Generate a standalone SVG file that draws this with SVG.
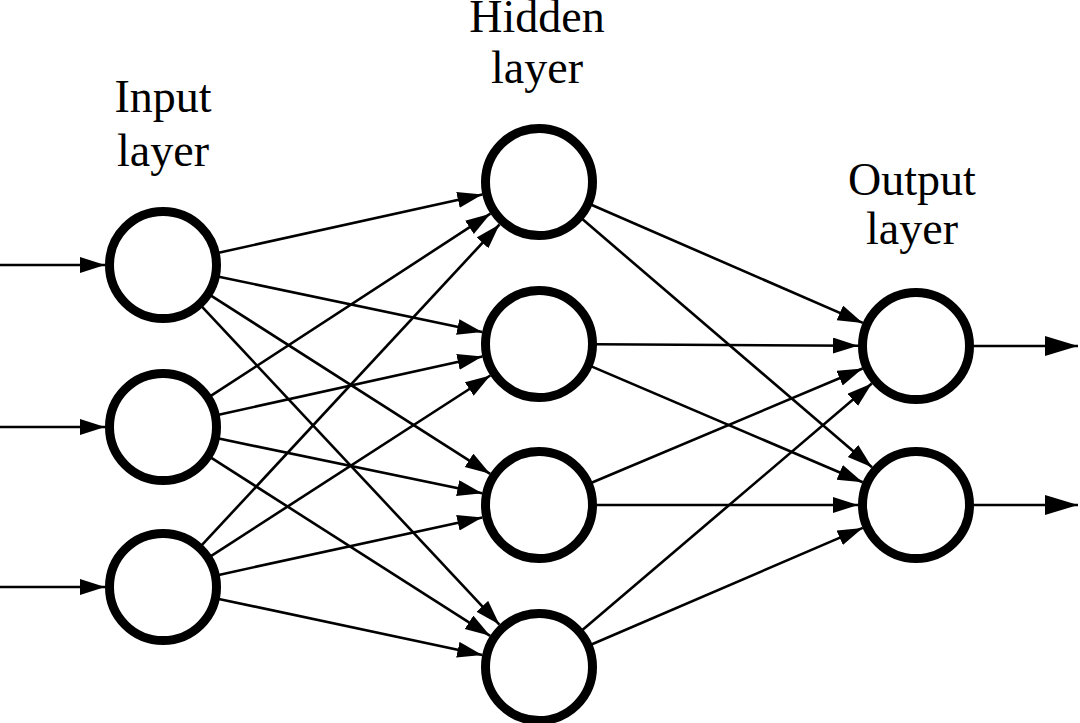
<svg xmlns="http://www.w3.org/2000/svg" width="1080" height="723" viewBox="0 0 1080 723">
<defs>
<marker id="ah" markerUnits="userSpaceOnUse" markerWidth="28" markerHeight="18" refX="25" refY="8" orient="auto">
<path d="M0,0 L25,8 L0,16 z" fill="#000"/>
</marker>
<marker id="ahBig" markerUnits="userSpaceOnUse" markerWidth="36" markerHeight="22" refX="33" refY="10" orient="auto">
<path d="M0,0 L33,10 L0,20 z" fill="#000"/>
</marker>
<style>
.node{fill:#fff;stroke:#000;stroke-width:9}
.edge{stroke:#000;stroke-width:2.6;fill:none;marker-end:url(#ah)}
.out{stroke:#000;stroke-width:2.6;fill:none;marker-end:url(#ahBig)}
.lbl{font-family:"Liberation Serif","Times New Roman",serif;font-size:46px;fill:#000;text-anchor:middle}
</style>
</defs>
<rect width="1080" height="723" fill="#fff"/>
<g id="labels">
<text class="lbl" x="163" y="112">Input</text>
<text class="lbl" x="163" y="166">layer</text>
<text class="lbl" x="537" y="32">Hidden</text>
<text class="lbl" x="537" y="83">layer</text>
<text class="lbl" x="912" y="195">Output</text>
<text class="lbl" x="912" y="244">layer</text>
</g>
<g id="connectors">
<line class="edge" x1="0" y1="265" x2="105" y2="265"/>
<line class="edge" x1="0" y1="427" x2="105" y2="427"/>
<line class="edge" x1="0" y1="587" x2="105" y2="587"/>
<line class="edge" x1="218.7" y1="252.7" x2="482.4" y2="194.5"/>
<line class="edge" x1="218.8" y1="276.7" x2="482.2" y2="332.1"/>
<line class="edge" x1="211.0" y1="295.7" x2="490.1" y2="473.8"/>
<line class="edge" x1="201.9" y1="306.6" x2="499.4" y2="624.6"/>
<line class="edge" x1="210.8" y1="395.9" x2="490.4" y2="213.7"/>
<line class="edge" x1="218.7" y1="414.7" x2="482.4" y2="356.5"/>
<line class="edge" x1="218.8" y1="438.6" x2="482.2" y2="493.2"/>
<line class="edge" x1="211.0" y1="457.7" x2="490.1" y2="635.8"/>
<line class="edge" x1="201.8" y1="545.2" x2="499.5" y2="224.5"/>
<line class="edge" x1="210.9" y1="556.1" x2="490.3" y2="375.5"/>
<line class="edge" x1="218.7" y1="574.9" x2="482.3" y2="517.4"/>
<line class="edge" x1="218.8" y1="598.9" x2="482.3" y2="654.9"/>
<line class="edge" x1="591.3" y1="204.7" x2="862.8" y2="322.9"/>
<line class="edge" x1="582.3" y1="219.1" x2="872.0" y2="467.3"/>
<line class="edge" x1="596" y1="344.3" x2="858" y2="345.7"/>
<line class="edge" x1="591.4" y1="366.4" x2="862.7" y2="482.2"/>
<line class="edge" x1="591.5" y1="482.8" x2="862.6" y2="368.5"/>
<line class="edge" x1="596" y1="505" x2="858" y2="505"/>
<line class="edge" x1="582.4" y1="630.0" x2="871.8" y2="383.6"/>
<line class="edge" x1="591.4" y1="644.5" x2="862.7" y2="527.9"/>
<line class="out" x1="974" y1="346" x2="1078" y2="346"/>
<line class="out" x1="974" y1="505" x2="1078" y2="505"/>
</g>
<g id="input1"><circle class="node" cx="163" cy="265" r="53.5"/></g>
<g id="input2"><circle class="node" cx="163" cy="427" r="53.5"/></g>
<g id="input3"><circle class="node" cx="163" cy="587" r="53.5"/></g>
<g id="hidden1"><circle class="node" cx="539" cy="182" r="53.5"/></g>
<g id="hidden2"><circle class="node" cx="539" cy="344" r="53.5"/></g>
<g id="hidden3"><circle class="node" cx="539" cy="505" r="53.5"/></g>
<g id="hidden4"><circle class="node" cx="539" cy="667" r="53.5"/></g>
<g id="output1"><circle class="node" cx="916" cy="346" r="53.5"/></g>
<g id="output2"><circle class="node" cx="916" cy="505" r="53.5"/></g>
</svg>
